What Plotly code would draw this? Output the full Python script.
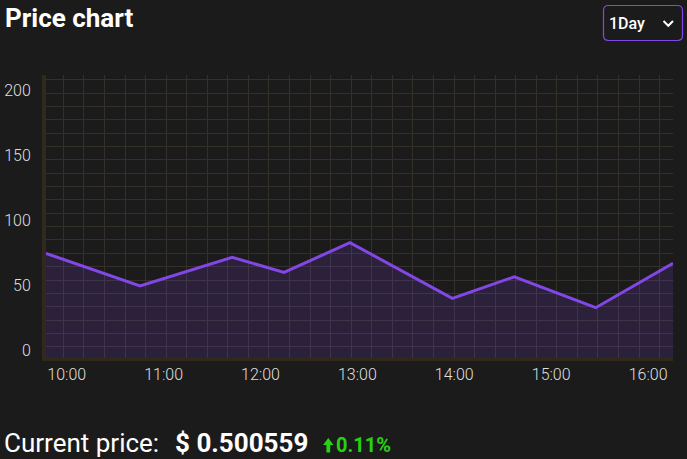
import plotly.graph_objects as go

# ---- data ----
times = ["2024-05-01 09:47:11", "2024-05-01 10:45:24", "2024-05-01 11:42:30",
         "2024-05-01 12:14:36", "2024-05-01 12:55:24", "2024-05-01 13:58:48",
         "2024-05-01 14:37:12", "2024-05-01 15:27:36", "2024-05-01 16:15:26"]
prices = [74.9, 49.8, 71.8, 60.3, 83.1, 40.3, 56.9, 33.1, 67.2]
y_ticks = [0, 50, 100, 150, 200]
title_text = "Price chart"
period_text = "1Day"
current_label = "Current price:"
current_value = "$ 0.500559"
change_text = "0.11%"

# ---- layout constants ----
W, H = 687, 459
L, R, T, B = 46, 14, 75, 101
PW, PH = W - L - R, H - T - B
Y_RANGE = [-5.6, 212.1]
X_RANGE = ["2024-05-01 09:47:11", "2024-05-01 16:15:26"]

BG = "#1b1b1b"
PURPLE = "#8247e5"
GRID = "#35302a"
AXIS = "#2f2a1c"
TXT = "#dedede"
GREEN = "#27d214"
TICKFONT = "Roboto Light, Roboto"


def px(x):
    return (x - L) / PW


def py(y):
    return (H - B - y) / PH


fig = go.Figure()
# baseline trace at the bottom of the plot so the fill reaches the axis
fig.add_trace(go.Scatter(x=times, y=[Y_RANGE[0]] * len(times), mode="lines",
                         line=dict(width=0), hoverinfo="skip", showlegend=False))
fig.add_trace(go.Scatter(x=times, y=prices, mode="lines", fill="tonexty",
                         fillcolor="rgba(130,71,229,0.16)",
                         line=dict(color=PURPLE, width=3), showlegend=False))

fig.update_layout(
    width=W, height=H,
    margin=dict(l=L, r=R, t=T, b=B, pad=0, autoexpand=False),
    paper_bgcolor=BG, plot_bgcolor=BG,
    font=dict(family="Roboto", color=TXT),
    showlegend=False,
)

fig.update_xaxes(
    type="date", range=X_RANGE, automargin=False,
    tickformat="%H:%M", dtick=3600000, tick0="2024-05-01 10:00",
    showgrid=False, zeroline=False,
    showline=True, linecolor=AXIS, linewidth=3,
    ticks="", ticklen=0,
    tickfont=dict(size=16, color=TXT, family=TICKFONT, weight=300),
    minor=dict(dtick=764000, tick0="2024-05-01 09:57:54", showgrid=True,
               gridcolor=GRID, gridwidth=1, ticks=""),
)
fig.update_yaxes(
    range=Y_RANGE, tickvals=y_ticks, automargin=False,
    showgrid=False, zeroline=False,
    showline=True, linecolor=AXIS, linewidth=4,
    ticks="", ticklabelstandoff=8,
    tickfont=dict(size=16, color=TXT, family=TICKFONT, weight=300),
    minor=dict(dtick=10.26, tick0=3.1, showgrid=True, gridcolor=GRID,
               gridwidth=1, ticks=""),
)

ann = []
ann.append(dict(text=title_text, x=px(3), y=py(18), xref="paper", yref="paper",
                xanchor="left", yanchor="middle", showarrow=False,
                font=dict(size=26, color="#ffffff", family="Roboto", weight=700)))
ann.append(dict(text=period_text, x=px(607), y=py(23.5), xref="paper", yref="paper",
                xanchor="left", yanchor="middle", showarrow=False,
                font=dict(size=16, color="#ffffff", family="Roboto", weight=500)))
ann.append(dict(text=current_label, x=px(2), y=py(443), xref="paper", yref="paper",
                xanchor="left", yanchor="middle", showarrow=False,
                font=dict(size=26, color="#ffffff", family="Roboto", weight=400)))
ann.append(dict(text=current_value, x=px(173), y=py(443), xref="paper", yref="paper",
                xanchor="left", yanchor="middle", showarrow=False,
                font=dict(size=26, color="#ffffff", family="Roboto", weight=700)))
ann.append(dict(text=change_text, x=px(334), y=py(445), xref="paper", yref="paper",
                xanchor="left", yanchor="middle", showarrow=False,
                font=dict(size=20, color=GREEN, family="Roboto", weight=700)))

shapes = []
# dropdown box with rounded corners
x0, x1, y0, y1, r = 603.5, 682.5, 5.5, 40.5, 5


def P(x, y):
    return f"{px(x)},{py(y)}"


box = (f"M {P(x0 + r, y0)} L {P(x1 - r, y0)} Q {P(x1, y0)} {P(x1, y0 + r)} "
       f"L {P(x1, y1 - r)} Q {P(x1, y1)} {P(x1 - r, y1)} "
       f"L {P(x0 + r, y1)} Q {P(x0, y1)} {P(x0, y1 - r)} "
       f"L {P(x0, y0 + r)} Q {P(x0, y0)} {P(x0 + r, y0)} Z")
shapes.append(dict(type="path", path=box, xref="paper", yref="paper",
                   line=dict(color=PURPLE, width=1.2), fillcolor=BG, layer="above"))
chev = f"M {P(663.5, 21)} L {P(668.3, 25.8)} L {P(673, 21)}"
shapes.append(dict(type="path", path=chev, xref="paper", yref="paper",
                   line=dict(color="#ffffff", width=2)))
# green up arrow
arrow = (f"M {P(328.3, 438)} L {P(333.5, 445)} L {P(330.2, 445)} L {P(330.2, 452.5)} "
         f"L {P(326.4, 452.5)} L {P(326.4, 445)} L {P(323.1, 445)} Z")
shapes.append(dict(type="path", path=arrow, xref="paper", yref="paper",
                   line=dict(width=0), fillcolor=GREEN))

fig.update_layout(annotations=ann, shapes=shapes)
fig.write_html("out.html")
